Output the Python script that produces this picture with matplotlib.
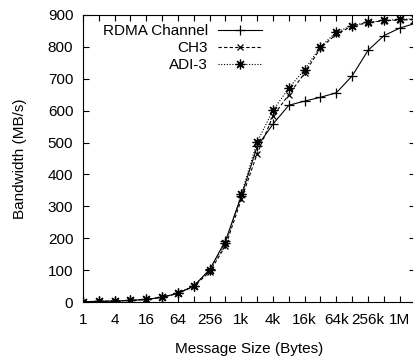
import matplotlib
matplotlib.use("Agg")
import matplotlib.pyplot as plt
from matplotlib.ticker import FixedLocator, NullFormatter

plt.rcParams['font.family'] = ['Liberation Sans', 'DejaVu Sans']

# Data
msg_sizes = [1, 2, 4, 8, 16, 32, 64, 128, 256, 512, 1024, 2048, 4096, 8192,
             16384, 32768, 65536, 131072, 262144, 524288, 1048576, 2097152]
rdma_channel = [1, 2, 3, 5, 8, 15, 27, 50, 102, 192, 332, 488, 558, 617,
                630, 642, 656, 709, 789, 835, 859, 874]
ch3 = [1, 2, 3, 5, 8, 15, 27, 49, 95, 176, 322, 465, 583, 650,
       718, 796, 840, 865, 876, 882, 884, 886]
adi3 = [1, 2, 3, 5, 8, 15, 28, 51, 100, 184, 338, 502, 601, 671,
        729, 801, 846, 867, 877, 883, 886, 888]
labels = ['RDMA Channel', 'CH3', 'ADI-3']

xtick_vals = [1, 4, 16, 64, 256, 1024, 4096, 16384, 65536, 262144, 1048576]
xtick_labels = ['1', '4', '16', '64', '256', '1k', '4k', '16k', '64k', '256k', '1M']
xminor_vals = [2, 8, 32, 128, 512, 2048, 8192, 32768, 131072, 524288]
ytick_vals = [0, 100, 200, 300, 400, 500, 600, 700, 800, 900]

W, H = 414, 360
fig = plt.figure(figsize=(W / 100, H / 100), dpi=100)
left, right, top, bottom = 83, 415.5, 15, 302
ax = fig.add_axes([left / W, 1 - bottom / H, (right - left) / W, (bottom - top) / H])

fs = 11
ax.plot(msg_sizes, rdma_channel, color='black', lw=0.8, ls='-',
        marker='+', ms=7, mew=0.9, label=labels[0])
ax.plot(msg_sizes, ch3, color='black', lw=0.8, ls=(0, (3, 2)),
        marker='x', ms=5, mew=0.9, label=labels[1])
ax.plot(msg_sizes, adi3, color='black', lw=0.8, ls=(0, (1, 1.5)),
        marker=(8, 2, 0), ms=7, mew=0.9, label=labels[2])

ax.set_xscale('log', base=2)
ax.set_xlim(1, 2097152)
ax.set_ylim(0, 900)
ax.xaxis.set_major_locator(FixedLocator(xtick_vals))
ax.set_xticklabels(xtick_labels)
ax.xaxis.set_minor_locator(FixedLocator(xminor_vals))
ax.xaxis.set_minor_formatter(NullFormatter())
ax.set_yticks(ytick_vals)

ax.tick_params(axis='both', which='both', direction='in', top=True, right=True,
               length=4, width=0.8, labelsize=fs, colors='black')
ax.tick_params(axis='y', pad=7)
ax.tick_params(axis='x', pad=8)
for s in ax.spines.values():
    s.set_linewidth(0.8)

ax.set_xlabel('Message Size (Bytes)', fontsize=fs, labelpad=11)
ax.set_ylabel('Bandwidth (MB/s)', fontsize=fs, labelpad=15)

leg = ax.legend(loc='upper right', bbox_to_anchor=(0.538, 0.968), frameon=False,
                markerfirst=False, fontsize=fs, handlelength=2.9, handletextpad=0.65,
                labelspacing=0.2, borderpad=0, borderaxespad=0)

fig.savefig('out.png', dpi=100)
